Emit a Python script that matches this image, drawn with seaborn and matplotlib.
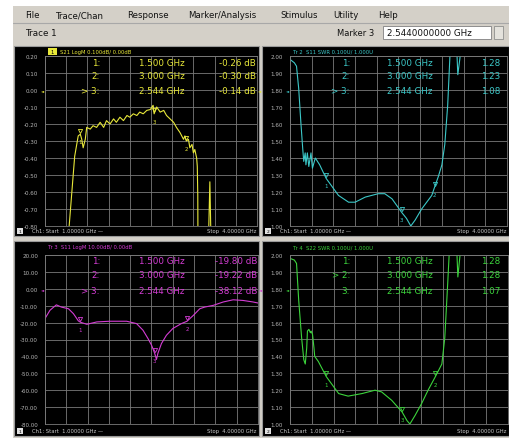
import numpy as np
import pandas as pd
import matplotlib
matplotlib.use("Agg")
import matplotlib.pyplot as plt
from matplotlib.patches import Rectangle
import seaborn as sns

# ---- data ----
freq_ticks = [1.0, 1.3, 1.6, 1.9, 2.2, 2.5, 2.8, 3.1, 3.4, 3.7, 4.0]

# Tr1: S21 LogM, 0.1 dB/div, ref 0.00 dB
s21_freq = [1.00, 1.33, 1.34, 1.38, 1.42, 1.47, 1.50, 1.52, 1.54, 1.57, 1.59, 1.64,
            1.68, 1.73, 1.78, 1.83, 1.87, 1.92, 1.97, 2.01, 2.06, 2.11, 2.16, 2.20,
            2.25, 2.30, 2.34, 2.39, 2.44, 2.49, 2.53, 2.544, 2.56, 2.58, 2.63, 2.68,
            2.72, 2.77, 2.82, 2.86, 2.91, 2.96, 2.98, 3.00, 3.03, 3.05, 3.08, 3.10,
            3.12, 3.146, 3.155, 3.162, 3.17, 3.31, 3.318, 3.333, 3.345, 3.355, 4.00]
s21_db = [-1.5, -1.5, -0.81, -0.60, -0.39, -0.27, -0.26, -0.29, -0.34, -0.29, -0.22, -0.23,
          -0.21, -0.22, -0.19, -0.22, -0.18, -0.20, -0.17, -0.19, -0.16, -0.18, -0.15, -0.16,
          -0.14, -0.15, -0.13, -0.14, -0.12, -0.115, -0.09, -0.14, -0.12, -0.10, -0.13, -0.12,
          -0.15, -0.17, -0.19, -0.22, -0.25, -0.29, -0.27, -0.30, -0.29, -0.34, -0.32, -0.37,
          -0.35, -0.40, -0.45, -0.62, -1.5, -1.5, -0.80, -0.54, -0.80, -1.5, -1.5]

# Tr2: S11 SWR, 0.1/div, ref 1.000
s11_swr_freq = [1.00, 1.06, 1.09, 1.12, 1.15, 1.175, 1.19, 1.21, 1.22, 1.24, 1.26, 1.29,
                1.31, 1.35, 1.41, 1.50, 1.67, 1.81, 1.90, 2.04, 2.22, 2.31, 2.41, 2.544,
                2.61, 2.67, 2.73, 2.82, 2.96, 3.00, 3.05, 3.10, 3.14, 3.18, 3.21, 3.23,
                3.28, 3.32, 3.35, 3.37, 4.00]
s11_swr = [1.98, 1.96, 1.94, 1.81, 1.61, 1.46, 1.38, 1.43, 1.36, 1.43, 1.35, 1.43,
           1.34, 1.40, 1.36, 1.28, 1.18, 1.14, 1.14, 1.17, 1.19, 1.19, 1.16, 1.08,
           1.045, 1.00, 1.035, 1.10, 1.18, 1.23, 1.29, 1.36, 1.48, 1.71, 1.99, 2.3,
           2.3, 1.89, 1.99, 2.3, 2.3]

# Tr3: S11 LogM, 10 dB/div, ref 0.00 dB
s11_db_freq = [1.00, 1.07, 1.16, 1.23, 1.33, 1.40, 1.47, 1.50, 1.59, 1.73, 1.91, 2.15,
               2.29, 2.38, 2.45, 2.50, 2.53, 2.544, 2.57, 2.59, 2.64, 2.71, 2.80, 2.92,
               3.00, 3.09, 3.18, 3.25, 3.37, 3.51, 3.65, 3.79, 3.93, 4.00]
s11_db = [-17.6, -12.7, -9.5, -10.8, -11.8, -14.7, -19.0, -19.8, -21.0, -19.6, -19.2, -19.2,
          -20.6, -24.5, -29.4, -33.3, -36.5, -38.1, -41.8, -38.2, -32.4, -27.5, -23.5, -20.6,
          -19.2, -15.7, -11.8, -10.8, -9.8, -7.8, -6.5, -6.9, -7.8, -8.4]

# Tr4: S22 SWR, 0.1/div, ref 1.000
s22_swr_freq = [1.00, 1.06, 1.09, 1.12, 1.16, 1.19, 1.21, 1.23, 1.24, 1.26, 1.28, 1.29,
                1.31, 1.33, 1.34, 1.39, 1.50, 1.67, 1.80, 1.99, 2.17, 2.26, 2.40, 2.544,
                2.61, 2.65, 2.72, 2.81, 2.90, 3.00, 3.09, 3.13, 3.17, 3.19, 3.21, 3.27,
                3.31, 3.34, 3.36, 4.00]
s22_swr = [1.98, 1.97, 1.95, 1.73, 1.51, 1.38, 1.355, 1.45, 1.55, 1.56, 1.54, 1.55,
           1.53, 1.45, 1.40, 1.37, 1.28, 1.18, 1.165, 1.18, 1.20, 1.19, 1.14, 1.07,
           1.02, 1.00, 1.05, 1.12, 1.20, 1.28, 1.355, 1.51, 1.83, 2.00, 2.3, 2.3,
           1.87, 2.0, 2.3, 2.3]

marker_freqs = [1.5, 3.0, 2.544]
marker_names = ["1", "2", "3"]
marker_freq_text = ["1.500 GHz", "3.000 GHz", "2.544 GHz"]

traces = [
    dict(freq=s21_freq, val=s21_db, color="#e8e83a", ymin=-0.80, ymax=0.20,
         ticks=["0.20", "0.10", "0.00", "-0.10", "-0.20", "-0.30", "-0.40", "-0.50",
                "-0.60", "-0.70", "-0.80"],
         title="S21 LogM 0.100dB/ 0.00dB", tr="1",
         readout=["-0.26 dB", "-0.30 dB", "-0.14 dB"], active=2,
         box=(14, 47, 259, 237), grid=(45, 57, 257, 227)),
    dict(freq=s11_swr_freq, val=s11_swr, color="#3cc8c8", ymin=1.0, ymax=2.0,
         ticks=["2.00", "1.90", "1.80", "1.70", "1.60", "1.50", "1.40", "1.30",
                "1.20", "1.10", "1.00"],
         title="Tr 2  S11 SWR 0.100U/ 1.000U", tr=None,
         readout=["1.28", "1.23", "1.08"], active=2,
         box=(262, 47, 509, 237), grid=(290, 57, 507, 227)),
    dict(freq=s11_db_freq, val=s11_db, color="#d43cd4", ymin=-80, ymax=20,
         ticks=["20.00", "10.00", "0.00", "-10.00", "-20.00", "-30.00", "-40.00",
                "-50.00", "-60.00", "-70.00", "-80.00"],
         title="Tr 3  S11 LogM 10.00dB/ 0.00dB", tr=None,
         readout=["-19.80 dB", "-19.22 dB", "-38.12 dB"], active=2,
         box=(14, 242, 259, 437), grid=(45, 256, 258, 425)),
    dict(freq=s22_swr_freq, val=s22_swr, color="#3cd43c", ymin=1.0, ymax=2.0,
         ticks=["2.00", "1.90", "1.80", "1.70", "1.60", "1.50", "1.40", "1.30",
                "1.20", "1.10", "1.00"],
         title="Tr 4  S22 SWR 0.100U/ 1.000U", tr=None,
         readout=["1.28", "1.28", "1.07"], active=1,
         box=(262, 242, 509, 437), grid=(290, 256, 508, 425)),
]

W, H = 510, 439
sns.set_theme(style="dark")
plt.rcParams["font.family"] = ["DejaVu Sans"]

fig = plt.figure(figsize=(W / 100, H / 100), dpi=100)
fig.patch.set_facecolor("#d4d0c8")


def fx(px):
    return px / W


def fy(py):
    return 1 - py / H


def rect(x0, y0, x1, y1, z=-5, **kw):
    fig.patches.append(Rectangle((fx(x0), fy(y1)), fx(x1) - fx(x0), fy(y0) - fy(y1),
                                 transform=fig.transFigure, figure=fig, zorder=z, **kw))


# white screenshot margins
rect(0, 0, W, 7, facecolor="white", edgecolor="none")
rect(0, 0, 13, H, facecolor="white", edgecolor="none")

# menu bar and toolbar row
menu = [("File", 25), ("Trace/Chan", 56), ("Response", 127), ("Marker/Analysis", 188),
        ("Stimulus", 280), ("Utility", 333), ("Help", 378)]
for label, px in menu:
    fig.text(fx(px), fy(16), label, fontsize=6.2, color="#111111", va="center")
fig.lines.append(plt.Line2D([fx(13), fx(W)], [fy(24), fy(24)], transform=fig.transFigure,
                            color="#a8a8a8", lw=0.8))
fig.text(fx(25), fy(33), "Trace 1", fontsize=6.3, color="#111111", va="center")
fig.text(fx(337), fy(33), "Marker 3", fontsize=6.0, color="#111111", va="center")
rect(383, 27, 491, 40, facecolor="white", edgecolor="#808080", linewidth=0.6)
fig.text(fx(387), fy(33.5), "2.5440000000 GHz", fontsize=6.3, color="#111111", va="center")
rect(494, 27, 503, 40, facecolor="#e4e2dc", edgecolor="#808080", linewidth=0.5)

for tr in traces:
    bx0, by0, bx1, by1 = tr["box"]
    gx0, gy0, gx1, gy1 = tr["grid"]
    c = tr["color"]
    left = gx0 < 100
    rect(bx0, by0, bx1, by1, facecolor="black", edgecolor="#9a9a9a", linewidth=0.8)

    ax = fig.add_axes([fx(gx0), fy(gy1), fx(gx1) - fx(gx0), fy(gy0) - fy(gy1)])
    ax.set_facecolor("black")
    df = pd.DataFrame({"f": tr["freq"], "v": tr["val"]})
    sns.lineplot(data=df, x="f", y="v", ax=ax, color=c, linewidth=0.8,
                 sort=False, estimator=None)
    ax.set_xlim(1.0, 4.0)
    ax.set_ylim(tr["ymin"], tr["ymax"])
    yvals = np.linspace(tr["ymax"], tr["ymin"], 11)
    ax.set_xticks(freq_ticks)
    ax.set_xticklabels([])
    ax.set_yticks(yvals)
    ax.set_yticklabels(tr["ticks"], fontsize=4.1, color="#b4b4b4")
    ax.tick_params(length=0, pad=5)
    ax.grid(True, color="#7a7a7a", linewidth=0.6)
    for s in ax.spines.values():
        s.set_color("#7a7a7a")
        s.set_linewidth(0.6)
    ax.set_xlabel("")
    ax.set_ylabel("")

    # markers on the trace
    span = tr["ymax"] - tr["ymin"]
    for mf, mn in zip(marker_freqs, marker_names):
        mv = np.interp(mf, tr["freq"], tr["val"])
        ax.plot(mf, mv + span * 0.02, marker="v", ms=3, color=c, mfc="none", mew=0.6)
        ax.text(mf, mv - span * 0.03, mn, color=c, fontsize=4, ha="center", va="top")

    # title bar
    if tr["tr"]:
        rect(gx0 + 3, by0 + 2, gx0 + 12, by0 + 9, z=2, facecolor=c, edgecolor="none")
        fig.text(fx(gx0 + 7.5), fy(by0 + 5.5), tr["tr"], fontsize=3.8, color="black",
                 ha="center", va="center")
        fig.text(fx(gx0 + 15), fy(by0 + 5.5), tr["title"], fontsize=3.8, color=c,
                 va="center")
    else:
        fig.text(fx(gx0 + 3), fy(by0 + 5.5), tr["title"], fontsize=3.8, color=c,
                 va="center")

    # marker readout
    num_x = 100 if left else 350
    freq_x = 139 if left else 387
    val_x = (gx1 - 1) if left else 500
    row_y = [gy0 + 6, gy0 + 20, gy0 + 35]
    for i in range(3):
        lab = ("> " if i == tr["active"] else "") + marker_names[i] + ":"
        fig.text(fx(num_x), fy(row_y[i]), lab, fontsize=6.3, color=c, ha="right", va="center")
        fig.text(fx(freq_x), fy(row_y[i]), marker_freq_text[i], fontsize=6.3, color=c,
                 va="center")
        fig.text(fx(val_x), fy(row_y[i]), tr["readout"][i], fontsize=6.3, color=c,
                 ha="right", va="center")
    # reference-position arrows
    ref_row = gy0 + 2 * (gy1 - gy0) / 10
    fig.text(fx(gx0 - 1), fy(ref_row), "\u25c4", fontsize=3, color=c, ha="right", va="center")
    if left:
        fig.text(fx(gx1 + 0.5), fy(ref_row), "\u25c4", fontsize=3, color=c, ha="left",
                 va="center")

    # status bar
    sy = by1 - 5
    rect(bx0 + 3, sy - 3, bx0 + 9, sy + 3, z=2, facecolor="#e0e0e0", edgecolor="none")
    fig.text(fx(bx0 + 6), fy(sy), "1" if left else "2", fontsize=3.2, color="black",
             ha="center", va="center")
    fig.text(fx(bx0 + 18), fy(sy), "Ch1: Start  1.00000 GHz \u2014", fontsize=3.8,
             color="#c8c8c8", va="center")
    fig.text(fx(bx1 - 3), fy(sy), "Stop  4.00000 GHz", fontsize=3.8, color="#c8c8c8",
             ha="right", va="center")

fig.savefig("out.png", dpi=100, facecolor=fig.get_facecolor())
